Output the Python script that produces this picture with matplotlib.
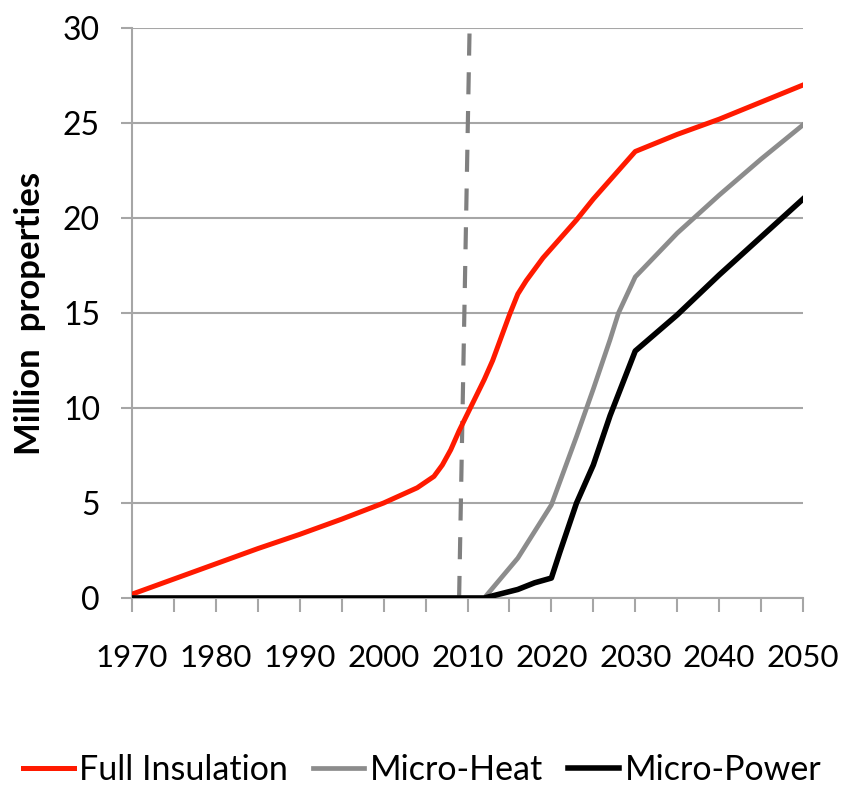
import matplotlib
matplotlib.use("Agg")
import matplotlib.pyplot as plt

# data (million properties)
years_ins = [1970, 1975, 1980, 1985, 1990, 1995, 2000, 2002, 2004, 2006, 2007,
             2008, 2009, 2010, 2011, 2012, 2013, 2014, 2015, 2016, 2017, 2018,
             2019, 2020, 2021, 2022, 2023, 2025, 2027, 2030, 2035, 2040, 2045, 2050]
full_insulation = [0.2, 1.0, 1.8, 2.6, 3.35, 4.15, 5.0, 5.4, 5.8, 6.4, 7.0,
                   7.8, 8.8, 9.7, 10.6, 11.5, 12.5, 13.7, 14.9, 16.0, 16.7, 17.3,
                   17.9, 18.4, 18.9, 19.4, 19.9, 21.0, 22.0, 23.5, 24.4, 25.2, 26.1, 27.0]

years_mh = [1970, 2012, 2016, 2020, 2023, 2025, 2027, 2028, 2030, 2035, 2040, 2045, 2050]
micro_heat = [0.0, 0.0, 2.1, 4.9, 8.5, 11.0, 13.6, 15.0, 16.9, 19.2, 21.2, 23.1, 24.9]

years_mp = [1970, 2012, 2016, 2018, 2020, 2021, 2023, 2025, 2027, 2030, 2035, 2040, 2045, 2050]
micro_power = [0.0, 0.0, 0.45, 0.8, 1.05, 2.4, 5.0, 7.0, 9.6, 13.0, 14.9, 17.0, 19.0, 21.0]

marker_x = [2009.0, 2010.25]
marker_y = [0, 30]

plt.rcParams["font.family"] = ["Lato", "DejaVu Sans"]

fig = plt.figure(figsize=(8.44, 7.85), dpi=100)
ax = fig.add_axes([132 / 844, 1 - 598 / 785, (803 - 132) / 844, (598 - 28) / 785])

ax.plot(marker_x, marker_y, color="#808080", lw=3.0, dashes=(5.3, 4.0), zorder=2)
ax.plot(years_ins, full_insulation, color="#ff1a00", lw=3.6, label="Full Insulation", zorder=3)
ax.plot(years_mh, micro_heat, color="#8c8c8c", lw=3.4, label="Micro-Heat", zorder=3)
ax.plot(years_mp, micro_power, color="black", lw=4.0, label="Micro-Power", zorder=4)

ax.set_xlim(1970, 2050)
ax.set_ylim(0, 30)
ax.set_xticks(range(1970, 2051, 10))
ax.set_xticks(range(1970, 2051, 5), minor=True)
ax.set_yticks(range(0, 31, 5))
ax.yaxis.grid(True, color="#a6a6a6", lw=1.5)
ax.set_axisbelow(True)

for s in ["top", "right"]:
    ax.spines[s].set_visible(False)
for s in ["left", "bottom"]:
    ax.spines[s].set_color("#a6a6a6")
    ax.spines[s].set_linewidth(1.5)

ax.tick_params(axis="x", which="both", length=10, width=1.5, color="#a6a6a6",
               labelsize=22.5, pad=23)
ax.tick_params(axis="y", length=8, width=1.5, color="#a6a6a6", labelsize=23, pad=15)

ax.set_ylabel("Million  properties", fontsize=25, fontweight="bold", labelpad=12)

fig.legend(loc="center", bbox_to_anchor=(0.5, 1 - 770 / 785), ncol=3, frameon=False,
           fontsize=24.5, handlelength=1.5, handletextpad=0.15, columnspacing=0.75)

fig.savefig("out.png", dpi=100)
